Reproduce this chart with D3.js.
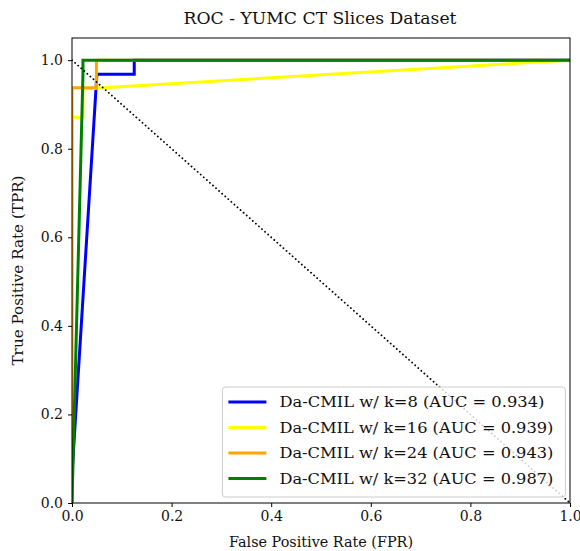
<!DOCTYPE html>
<html>
<head>
<meta charset="utf-8">
<script src="https://cdn.jsdelivr.net/npm/d3@7"></script>
<style>
  body { margin: 0; background: #fff; }
  svg { display: block; font-family: "DejaVu Serif", "Liberation Serif", serif; }
</style>
</head>
<body>
<svg id="chart"></svg>
<script>
// ROC curves (FPR, TPR)
const SERIES_NAMES = ['k=8', 'k=16', 'k=24', 'k=32'];
const AUC_VALUES = ['0.934', '0.939', '0.943', '0.987'];
const FPR_K8 = [0, 0, 0.05, 0.125, 0.125, 1];
const TPR_K8 = [0, 0.065, 0.968, 0.968, 1, 1];
const FPR_K16 = [0, 0, 0.022, 0.022, 1];
const TPR_K16 = [0, 0.871, 0.871, 0.935, 1];
const FPR_K24 = [0, 0, 0.049, 0.049, 1];
const TPR_K24 = [0, 0.9375, 0.9375, 1, 1];
const FPR_K32 = [0, 0.022, 0.022, 1];
const TPR_K32 = [0, 0.968, 1, 1];
const TICKS = [0, 0.2, 0.4, 0.6, 0.8, 1.0];

const COLORS = ['#0000ff', '#ffff00', '#ffa500', '#008000'];

const W = 580, H = 551;
const margin = { top: 38, right: 10, bottom: 48, left: 72 };
const iW = W - margin.left - margin.right;
const iH = H - margin.top - margin.bottom;

const svg = d3.select('#chart').attr('width', W).attr('height', H);
const g = svg.append('g').attr('transform', `translate(${margin.left},${margin.top})`);

const x = d3.scaleLinear().domain([0, 1]).range([0, iW]);
const y = d3.scaleLinear().domain([0, 1.05]).range([iH, 0]);

const curves = [
  FPR_K8.map((f, i) => [f, TPR_K8[i]]),
  FPR_K16.map((f, i) => [f, TPR_K16[i]]),
  FPR_K24.map((f, i) => [f, TPR_K24[i]]),
  FPR_K32.map((f, i) => [f, TPR_K32[i]])
];

const line = d3.line().x((d) => x(d[0])).y((d) => y(d[1]));

g.append('defs').append('clipPath').attr('id', 'clip')
  .append('rect').attr('width', iW).attr('height', iH);

const plot = g.append('g').attr('clip-path', 'url(#clip)');

curves.forEach((c, i) => {
  plot.append('path')
    .datum(c)
    .attr('d', line)
    .attr('fill', 'none')
    .attr('stroke', COLORS[i])
    .attr('stroke-width', 3)
    .attr('stroke-linejoin', 'miter');
});

// chance diagonal
plot.append('path')
  .datum([[0, 1], [1, 0]])
  .attr('d', line)
  .attr('fill', 'none')
  .attr('stroke', '#000')
  .attr('stroke-width', 1.8)
  .attr('stroke-linecap', 'round')
  .attr('stroke-dasharray', '0.1,4');

// axes
const xAxis = g.append('g')
  .attr('transform', `translate(0,${iH})`)
  .call(d3.axisBottom(x).tickValues(TICKS).tickFormat(d3.format('.1f')).tickSize(4).tickPadding(4));
const yAxis = g.append('g')
  .call(d3.axisLeft(y).tickValues(TICKS).tickFormat(d3.format('.1f')).tickSize(4).tickPadding(5));
[xAxis, yAxis].forEach((a) => {
  a.select('.domain').remove();
  a.selectAll('line').attr('stroke', '#000').attr('stroke-width', 1);
  a.selectAll('text').attr('fill', '#111').attr('font-size', 14).attr('font-family', '"DejaVu Serif", serif');
});

g.append('rect')
  .attr('width', iW).attr('height', iH)
  .attr('fill', 'none').attr('stroke', '#000').attr('stroke-width', 1);

// titles
svg.append('text')
  .attr('x', margin.left + iW / 2 - 1).attr('y', 24)
  .attr('text-anchor', 'middle').attr('font-size', 16).attr('fill', '#111')
  .attr('textLength', 273).attr('lengthAdjust', 'spacingAndGlyphs')
  .text('ROC - YUMC CT Slices Dataset');

svg.append('text')
  .attr('x', margin.left + iW / 2).attr('y', 547)
  .attr('text-anchor', 'middle').attr('font-size', 14.5).attr('fill', '#111')
  .attr('textLength', 184).attr('lengthAdjust', 'spacingAndGlyphs')
  .text('False Positive Rate (FPR)');

svg.append('text')
  .attr('transform', `translate(23,${margin.top + iH / 2}) rotate(-90)`)
  .attr('text-anchor', 'middle').attr('font-size', 14.5).attr('fill', '#111')
  .attr('textLength', 190).attr('lengthAdjust', 'spacingAndGlyphs')
  .text('True Positive Rate (TPR)');

// legend
const lg = g.append('g').attr('transform', `translate(${x(0.3) + 1},${iH - 116})`);
lg.append('rect')
  .attr('width', 343).attr('height', 110).attr('rx', 3)
  .attr('fill', 'rgba(255,255,255,0.8)').attr('stroke', '#ccc').attr('stroke-width', 1);
SERIES_NAMES.forEach((name, i) => {
  const yy = 15 + i * 25.5;
  lg.append('line')
    .attr('x1', 6).attr('x2', 44).attr('y1', yy).attr('y2', yy)
    .attr('stroke', COLORS[i]).attr('stroke-width', 3);
  lg.append('text')
    .attr('x', 57).attr('y', yy + 5)
    .attr('font-size', 14.5).attr('fill', '#111')
    .attr('textLength', i === 0 ? 265 : 274).attr('lengthAdjust', 'spacingAndGlyphs')
    .text(`Da-CMIL w/ ${name} (AUC = ${AUC_VALUES[i]})`);
});
</script>
</body>
</html>
